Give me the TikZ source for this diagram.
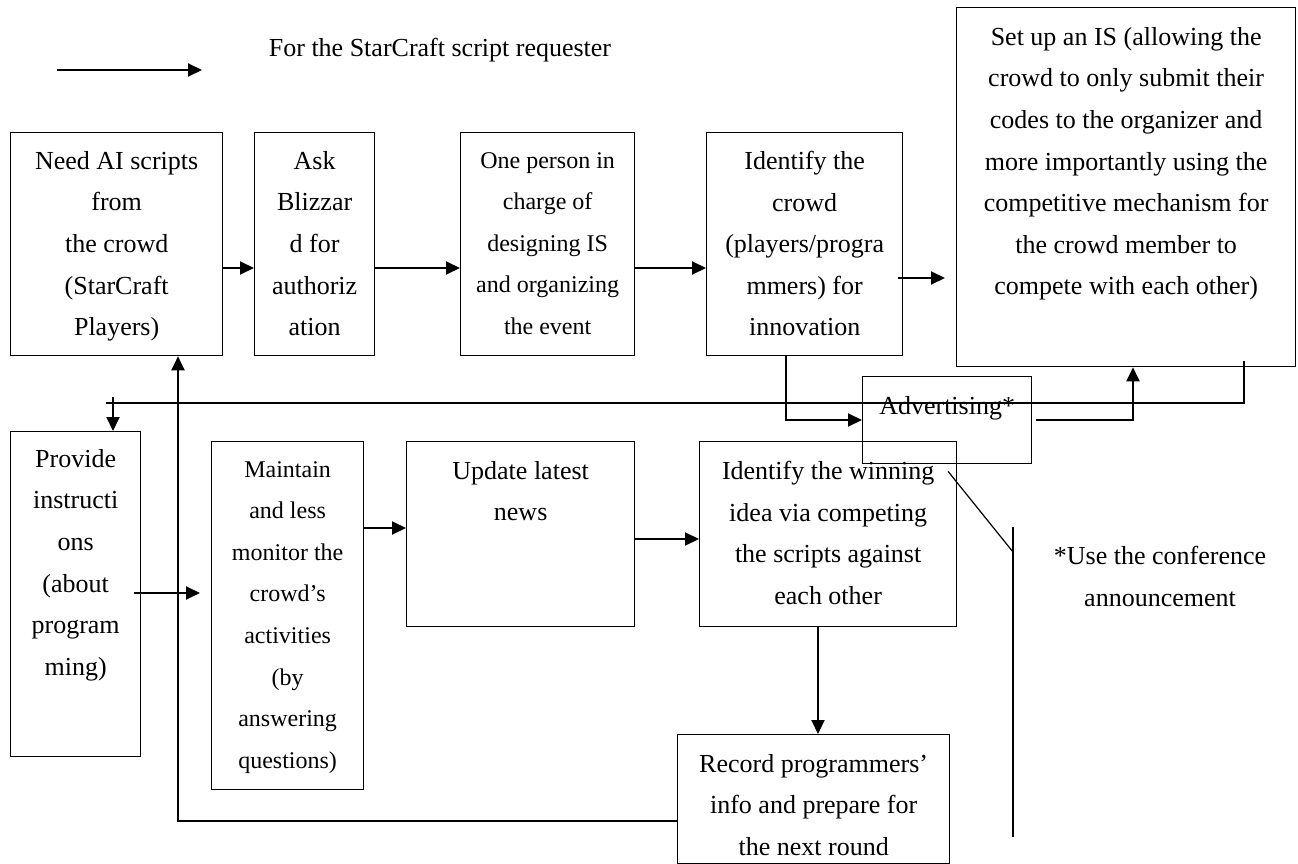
\documentclass[tikz,border=0pt]{standalone}
\usepackage{fontspec}
\setmainfont{Liberation Serif}
\usetikzlibrary{arrows.meta, positioning}
\tikzset{
  frame/.style={draw, line width=1.3pt, inner sep=0pt, anchor=north west},
  txt/.style={align=center, inner sep=0pt},
  small/.style={font=\fontsize{24}{41.6}\selectfont},
  flow/.style={-{Triangle[length=14pt, width=13pt]}, line width=2pt},
  link/.style={line width=2pt},
  hair/.style={line width=1.2pt},
}

\begin{document}
\begin{tikzpicture}[x=1pt, y=-1pt, font=\fontsize{26}{41.6}\selectfont]
  \useasboundingbox (0,0) rectangle (1298,864);

  % Legend
  \coordinate (keyl) at (57,70);
  \coordinate (keyr) at (202,70);
  \draw[flow] (keyl) -- (keyr);
  \node[txt] (legend) at (440,50) {For the StarCraft script requester};

  % Top row
  \node[frame, minimum width=212, minimum height=223] (need) at (10,132) {};
  \node[txt, below=19pt of need.north] (needtxt) {Need AI scripts\\from\\the crowd\\(StarCraft\\Players)};

  \node[frame, minimum width=120, minimum height=223] (ask) at (254,132) {};
  \node[txt, below=19pt of ask.north] (asktxt) {Ask\\Blizzar\\d for\\authoriz\\ation};

  \node[frame, minimum width=174, minimum height=223] (one) at (460,132) {};
  \node[txt, small, below=20pt of one.north] (onetxt) {One person in\\charge of\\designing IS\\and organizing\\the event};

  \node[frame, minimum width=196, minimum height=223] (crowd) at (706,132) {};
  \node[txt, below=19pt of crowd.north] (crowdtxt) {Identify the\\crowd\\(players/progra\\mmers) for\\innovation};

  \node[frame, minimum width=339, minimum height=359] (setup) at (956,7) {};
  \node[txt, below=20pt of setup.north] (setuptxt) {Set up an IS (allowing the\\crowd to only submit their\\codes to the organizer and\\more importantly using the\\competitive mechanism for\\the crowd member to\\compete with each other)};

  % Advertising
  \node[frame, minimum width=169, minimum height=87] (advert) at (862,376) {};
  \node[txt, below=20pt of advert.north] (adverttxt) {Advertising*};

  % Bottom row
  \node[frame, minimum width=130, minimum height=325] (provide) at (10,431) {};
  \node[txt, below=18pt of provide.north] (providetxt) {Provide\\instructi\\ons\\(about\\program\\ming)};

  \node[frame, minimum width=152, minimum height=348] (maintain) at (211,441) {};
  \node[txt, small, below=20pt of maintain.north] (maintaintxt) {Maintain\\and less\\monitor the\\crowd’s\\activities\\(by\\answering\\questions)};

  \node[frame, minimum width=228, minimum height=185] (update) at (406,441) {};
  \node[txt, below=20pt of update.north] (updatetxt) {Update latest\\news};

  \node[frame, minimum width=257, minimum height=185] (winning) at (699,441) {};
  \node[txt, below=20pt of winning.north] (winningtxt) {Identify the winning\\idea via competing\\the scripts against\\each other};

  \node[frame, minimum width=272, minimum height=129] (record) at (677,734) {};
  \node[txt, below=20pt of record.north] (recordtxt) {Record programmers’\\info and prepare for\\the next round};

  % Note
  \node[txt, anchor=north] (note) at (1160,546) {*Use the conference\\announcement};
  \coordinate (bartop) at (1013,527);
  \coordinate (barbot) at (1013,837);
  \coordinate (barhit) at (1013,552);
  \draw[hair] (bartop) -- (barbot);
  \draw[hair] (advert.south -| 948,0) ++(0,7) -- (barhit);

  % Flow of the top row
  \draw[flow] (need.east |- 0,268) -- (ask.west |- 0,268);
  \draw[flow] (ask.east |- 0,268) -- (one.west |- 0,268);
  \draw[flow] (one.east |- 0,268) -- (crowd.west |- 0,268);
  \draw[flow, shorten <=-5, shorten >=11] (crowd.east |- 0,278) -- (setup.west |- 0,278);

  % Advertising loop
  \draw[flow] (crowd.south -| 786,0) |- (advert.west |- 0,420);
  \draw[flow, shorten <=4] (advert.east |- 0,420) -| (setup.south -| 1133,0);

  % Back to the instructions
  \coordinate (fb) at (106,403);
  \draw[hair, shorten <=-6] (setup.south -| 1244,0) |- (fb);
  \draw[flow] (113,397) -- (provide.north -| 113,0);

  % Flow of the bottom row
  \draw[flow, shorten <=-7, shorten >=11] (provide.east |- 0,593) -- (maintain.west |- 0,593);
  \draw[flow] (maintain.east |- 0,528) -- (update.west |- 0,528);
  \draw[flow] (update.east |- 0,539) -- (winning.west |- 0,539);
  \draw[flow] (winning.south -| 818,0) -- (record.north -| 818,0);

  % Next round
  \draw[flow] (record.west |- 0,821) -| (need.south -| 178,0);
\end{tikzpicture}
\end{document}
